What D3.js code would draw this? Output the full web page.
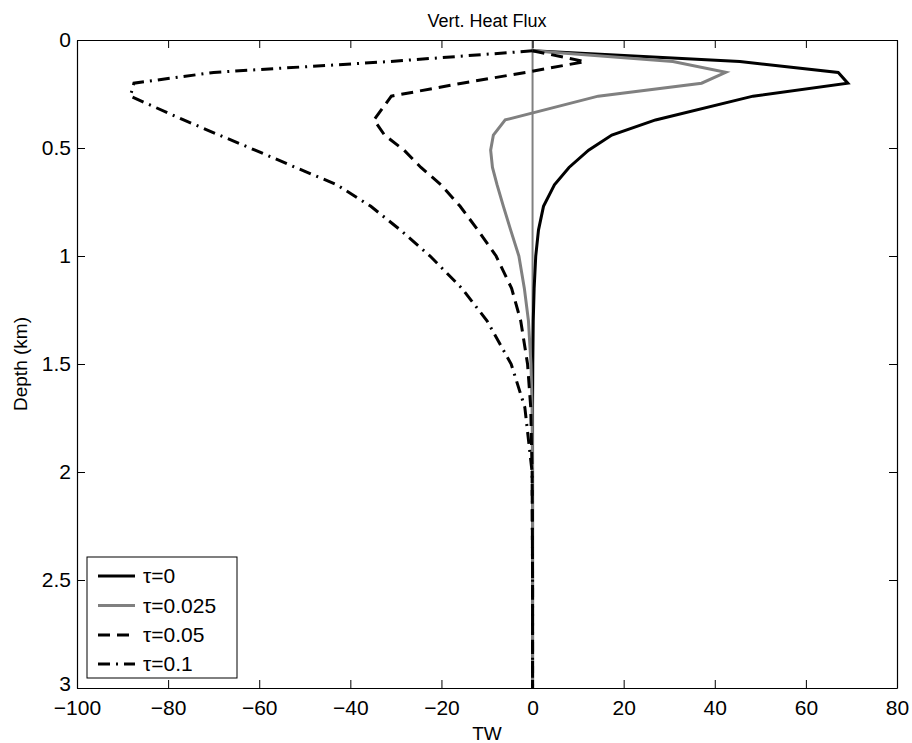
<!DOCTYPE html>
<html>
<head>
<meta charset="utf-8">
<script src="https://cdn.jsdelivr.net/npm/d3@7"></script>
<style>
  html, body { margin: 0; padding: 0; background: #fff; }
  svg { display: block; }
  text { font-family: "Liberation Sans", Arial, Helvetica, sans-serif; fill: #000; }
</style>
</head>
<body>
<svg id="chart" width="912" height="743"></svg>
<script>
// ---- Data ----
const depth = [0.05, 0.1, 0.15, 0.2, 0.26, 0.37, 0.44, 0.51, 0.59, 0.67, 0.77, 0.88, 1.0, 1.15, 1.3, 1.5, 1.7, 2.0, 2.5, 3.0];
const tau0    = [0, 45.5, 67.1, 69.2, 48.4, 27.0, 17.4, 12.3, 8.0, 4.8, 2.4, 1.3, 0.7, 0.35, 0.15, 0.05, 0, 0, 0, 0];
const tau0025 = [0, 30.8, 42.4, 37.1, 14.4, -6.0, -8.6, -9.2, -8.8, -7.8, -6.4, -4.8, -3.0, -1.8, -0.9, -0.35, -0.1, 0, 0, 0];
const tau005  = [0, 11.5, -1.5, -15.5, -31.0, -34.8, -32.5, -28.2, -24.5, -20.1, -15.9, -12.0, -8.0, -4.6, -2.6, -1.1, -0.4, -0.1, 0, 0];
const tau01   = [0, -31.6, -70.0, -87.5, -88.3, -76.6, -68.8, -60.9, -52.0, -43.0, -35.5, -29.0, -22.5, -15.5, -10.0, -4.7, -1.7, -0.1, 0, 0];
const seriesNames = ["\u03C4=0", "\u03C4=0.025", "\u03C4=0.05", "\u03C4=0.1"];
const xTicks = [-100, -80, -60, -40, -20, 0, 20, 40, 60, 80];
const yTicks = [0, 0.5, 1, 1.5, 2, 2.5, 3];
const titleText = "Vert. Heat Flux";
const xLabel = "TW";
const yLabel = "Depth (km)";

// ---- Layout ----
const svg = d3.select("#chart");
const L = 77, R = 897, T = 40, B = 688;
const x = d3.scaleLinear().domain([-100, 80]).range([L, R]);
const y = d3.scaleLinear().domain([0, 3]).range([T, B]);

const styles = [
  { color: "#000000", dash: null },
  { color: "#808080", dash: null },
  { color: "#000000", dash: "12,7" },
  { color: "#000000", dash: "12,6,2,6" }
];
const seriesVals = [tau0, tau0025, tau005, tau01];

// Zero line
svg.append("line")
  .attr("x1", x(0)).attr("x2", x(0)).attr("y1", y(0)).attr("y2", y(3))
  .attr("stroke", "#808080").attr("stroke-width", 2);

// Series
const line = d3.line().x(d => x(d[0])).y(d => y(d[1]));
seriesVals.forEach((vals, i) => {
  const pts = vals.map((v, j) => [v, depth[j]]);
  svg.append("path")
    .attr("d", line(pts))
    .attr("fill", "none")
    .attr("stroke", styles[i].color)
    .attr("stroke-width", 3)
    .attr("stroke-linejoin", "miter")
    .attr("stroke-dasharray", styles[i].dash);
});

// Axes (ticks inward, box)
const fs = "21px";
const gB = svg.append("g").attr("transform", `translate(0,${B})`)
  .call(d3.axisBottom(x).tickValues(xTicks).tickSizeInner(-8).tickSizeOuter(0).tickPadding(12));
const gT = svg.append("g").attr("transform", `translate(0,${T})`)
  .call(d3.axisTop(x).tickValues(xTicks).tickSizeInner(-8).tickSizeOuter(0).tickFormat(""));
const gL = svg.append("g").attr("transform", `translate(${L},0)`)
  .call(d3.axisLeft(y).tickValues(yTicks).tickSizeInner(-8).tickSizeOuter(0).tickPadding(6).tickFormat(d3.format("")));
const gR = svg.append("g").attr("transform", `translate(${R},0)`)
  .call(d3.axisRight(y).tickValues(yTicks).tickSizeInner(-8).tickSizeOuter(0).tickFormat(""));
[gB, gT, gL, gR].forEach(g => {
  g.select(".domain").attr("stroke", "#000").attr("stroke-width", 1.2);
  g.selectAll(".tick line").attr("stroke", "#000").attr("stroke-width", 1);
  g.selectAll("text").attr("font-size", fs).attr("font-family", '"Liberation Sans", Arial, sans-serif').attr("fill", "#000");
});
// Nudge the bottom-left "3" label up so it sits above the "−100" label, as in the reference
gL.selectAll(".tick").filter(d => d === 3).select("text").attr("y", -4);

// Titles
svg.append("text").attr("x", (L + R) / 2).attr("y", 27).attr("text-anchor", "middle")
  .attr("font-size", "18px").text(titleText);
svg.append("text").attr("x", (L + R) / 2).attr("y", 740).attr("text-anchor", "middle")
  .attr("font-size", "19px").text(xLabel);
svg.append("text").attr("transform", `translate(27,${(T + B) / 2}) rotate(-90)`).attr("text-anchor", "middle")
  .attr("font-size", "19px").text(yLabel);

// Legend
const lg = svg.append("g");
const lx = 87, ly = 557, lw = 150, lh = 121;
lg.append("rect").attr("x", lx).attr("y", ly).attr("width", lw).attr("height", lh)
  .attr("fill", "#fff").attr("stroke", "#000").attr("stroke-width", 1);
const rowY = [576, 605.5, 635, 664];
seriesNames.forEach((name, i) => {
  lg.append("line").attr("x1", 98).attr("x2", 135).attr("y1", rowY[i]).attr("y2", rowY[i])
    .attr("stroke", styles[i].color).attr("stroke-width", 3)
    .attr("stroke-dasharray", styles[i].dash);
  lg.append("text").attr("x", 143).attr("y", rowY[i]).attr("dy", "0.35em")
    .attr("font-size", "21px").text(name);
});
</script>
</body>
</html>
